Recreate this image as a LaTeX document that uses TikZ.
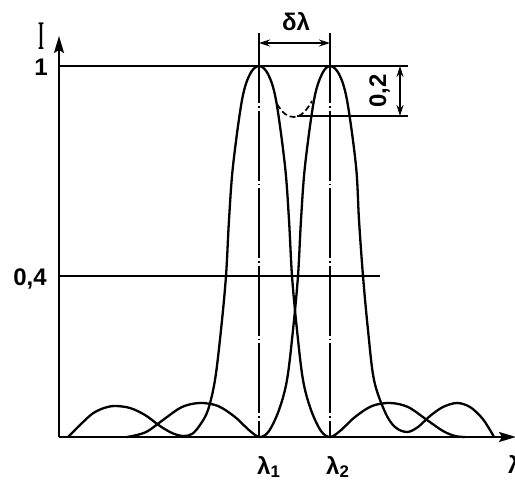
\documentclass[tikz,border=0pt]{standalone}
\usepackage{fontspec}
\setmainfont{Liberation Sans}
\newfontfamily\serifI{Liberation Serif}
\usetikzlibrary{arrows.meta}
\begin{document}
\begin{tikzpicture}[x=1pt,y=-1pt,
  axis/.style={line width=2.2pt,-{Stealth[length=17pt,width=10pt,inset=3pt]}},
  curve/.style={line width=2.3pt,line join=round},
  thinline/.style={line width=1.4pt},
  centerline/.style={line width=1.3pt,dash pattern=on 70pt off 3pt on 1.5pt off 3pt},
  dimline/.style={line width=1.4pt,{Stealth[length=11pt,width=7pt]}-{Stealth[length=11pt,width=7pt]}},
  lbl/.style={font=\fontsize{24}{24}\selectfont\bfseries,inner sep=0pt}]
\useasboundingbox (0,0) rectangle (515,482);
% axes
\coordinate (O) at (59,437);
\coordinate (ytip) at (59,36);
\coordinate (xtip) at (516,437);
\draw[axis] (O) -- (ytip);
\draw[axis] (O) -- (xtip);
% reference lines
\coordinate (one0) at (59,66);   \coordinate (one1) at (408,66);
\coordinate (f0) at (59,276);    \coordinate (f1) at (380,276);
\coordinate (d0) at (297,116);   \coordinate (d1) at (408,116);
\draw[thinline] (one0) -- (one1);
\draw[thinline] (f0) -- (f1);
\draw[thinline] (d0) -- (d1);
% center lines
\coordinate (l1t) at (259,33); \coordinate (l1b) at (259,437);
\coordinate (l2t) at (330,33); \coordinate (l2b) at (330,437);
\draw[centerline] (l1t) -- (l1b);
\draw[centerline] (l2t) -- (l2b);
% dimensions
\coordinate (da) at (400,66); \coordinate (db) at (400,116);
\draw[dimline] (da) -- (db);
\coordinate (dl1) at (259,43); \coordinate (dl2) at (330,43);
\draw[dimline] (dl1) -- (dl2);
% curve 1 (peak at lambda1)
\draw[curve] plot[smooth,tension=0.55] coordinates {
 (68,437) (78,427) (92,414) (104,408) (115,406) (130,408) (145,415) (160,426) (172,433) (183,436)
 (192,434) (200,425) (208,410) (215,380) (221,330) (226,276) (229,220) (233,166) (242,100) (250,74) (259,66)
 (268,74) (276,100) (285,166) (289,220) (292,276) (297,330) (303,380) (311,410) (321,431) (330,437)
 (340,431) (355,417) (372,406) (390,403) (408,407) (427,420) (443,431) (455,436) (465,437)};
% curve 2 (peak at lambda2)
\draw[curve] plot[smooth,tension=0.55] coordinates {
 (127,437) (137,435) (148,431) (163,420) (182,407) (200,403) (218,406) (235,417) (250,431) (260,437)
 (269,431) (279,410) (287,380) (293,330) (298,276) (301,220) (305,166) (314,100) (322,74) (330,66)
 (339,74) (347,100) (356,166) (359,220) (363,276) (368,330) (374,380) (385,412) (395,427) (407,432)
 (418,427) (430,416) (443,407) (457,403) (470,407) (482,418) (490,430) (494,437)};
% dip (dashed)
\coordinate (dipA) at (277,104);
\coordinate (dipM) at (294,117);
\coordinate (dipB) at (312,101);
\draw[line width=1.7pt,dash pattern=on 6pt off 3pt] (dipA) .. controls (283,114) and (288,117) .. (dipM) .. controls (301,117) and (307,110) .. (dipB);
% labels
\node[inner sep=0pt] (Ilbl) at (41,36) {\scalebox{0.55}[1.45]{\serifI\fontsize{28}{28}\selectfont\bfseries I}};
\node[lbl] (onelbl) at (41,67) {1};
\node[lbl,anchor=base] (f4lbl) at (30,285) {0,4};
\node[lbl,anchor=base] (dllbl) at (296,30) {δλ};
\node[lbl,anchor=base,rotate=90] (d2lbl) at (386,91) {0,2};
\node[lbl,anchor=base west] (l1lbl) at (257,474) {λ\textsubscript{1}};
\node[lbl,anchor=base west] (l2lbl) at (326,474) {λ\textsubscript{2}};
\node[lbl,anchor=base west] (llbl) at (508,473) {λ};
\end{tikzpicture}
\end{document}
